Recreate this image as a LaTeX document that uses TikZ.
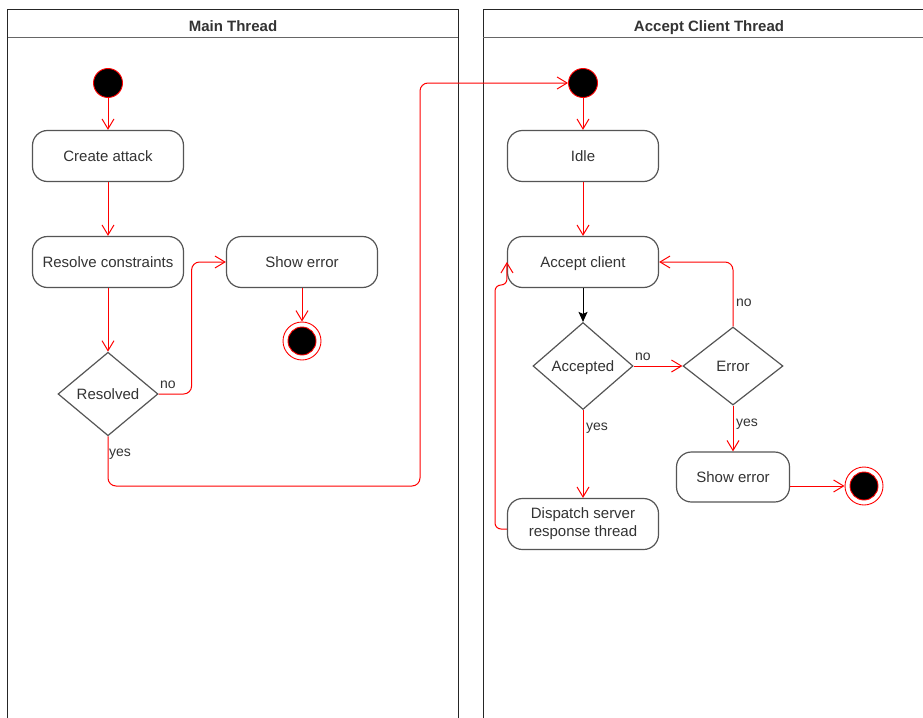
\documentclass[tikz,border=0pt]{standalone}
\usepackage{fontspec}
\setmainfont{Liberation Sans}
\usetikzlibrary{arrows.meta,shapes.geometric,calc}

\definecolor{flowred}{RGB}{255,0,0}
\definecolor{inkgray}{RGB}{51,51,51}
\definecolor{boxgray}{RGB}{85,85,85}

\tikzset{
  lane/.style={draw=black!85, line width=1pt},
  laneline/.style={draw=black!60, line width=1pt},
  lanetitle/.style={font=\fontsize{15}{18}\selectfont\bfseries, text=inkgray,
    text height=14pt, text depth=3pt},
  oneline/.style={text height=14pt, text depth=3pt},
  action/.style={draw=boxgray, line width=1.2pt, rounded corners=15pt,
    minimum width=151pt, minimum height=51pt, align=center,
    font=\fontsize{15}{18}\selectfont, text=inkgray, fill=white},
  decision/.style={diamond, draw=boxgray, line width=1.2pt, inner sep=1pt, oneline,
    minimum width=100pt, font=\fontsize{15}{18}\selectfont, text=inkgray, fill=white},
  initial/.style={circle, draw=flowred, fill=black, line width=0.9pt,
    minimum size=29pt, inner sep=0pt},
  final/.style={circle, draw=flowred, fill=white, line width=0.9pt,
    minimum size=38pt, inner sep=0pt,
    path picture={\filldraw[fill=black, draw=flowred, line width=0.9pt]
      (path picture bounding box.center) circle (14pt);}},
  flow/.style={draw=flowred, line width=1pt,
    -{Straight Barb[length=10pt,width=12pt,line width=1pt]}},
  flowbend/.style={flow, rounded corners=8pt},
  strongflow/.style={draw=black, line width=1pt,
    -{Stealth[length=10pt,width=9pt,inset=2pt]}},
  guard/.style={font=\fontsize{14}{16}\selectfont, text=inkgray, inner sep=0pt, anchor=west},
}

\begin{document}
\begin{tikzpicture}[x=1pt,y=-1pt]
  \useasboundingbox (0,0) rectangle (923,717);
  \clip (0,0) rectangle (923,717);
  \fill[white] (0,0) rectangle (923,717);

  % swimlanes
  \draw[lane] (7.5,9.5) rectangle (458,740);
  \draw[laneline] (7.5,38) -- (458,38);
  \node[lanetitle] (mainTitle) at (233,26) {Main Thread};

  \draw[lane] (483,9.5) rectangle (935,740);
  \draw[laneline] (483,38) -- (935,38);
  \node[lanetitle] (acceptTitle) at (709,26) {Accept Client Thread};

  % main thread
  \node[initial] (s1) at (108,83) {};
  \node[action, oneline] (create) at (108,156) {Create attack};
  \node[action, oneline] (resolve) at (108,262) {Resolve constraints};
  \node[action, oneline] (err1) at (302,262) {Show error};
  \node[final] (end1) at (302,341) {};
  \node[decision, minimum height=83pt] (resolved) at (108,394) {Resolved};

  \draw[flow] (s1) -- (create);
  \draw[flow] (create) -- (resolve);
  \draw[flow] (resolve) -- (resolved);
  \draw[flowbend] (resolved.east) -- ($(resolved.east)+(33,0)$) |- (err1.west);
  \node[guard] (noA) at (160,385) {no};
  \draw[flow] (err1) -- (end1);

  % accept client thread
  \node[initial] (s2) at (583,83) {};
  \node[action, oneline] (idle) at (583,156) {Idle};
  \node[action, oneline] (accept) at (583,262) {Accept client};
  \node[decision, minimum height=87pt] (accepted) at (583,366) {Accepted};
  \node[decision, minimum height=78pt] (error) at (733,366) {Error};
  \node[action, oneline, minimum width=113pt, minimum height=50pt] (err2) at (733,477) {Show error};
  \node[final] (end2) at (864,486) {};
  \node[action] (dispatch) at (583,524) {Dispatch server\\response thread};

  % hand-over from main thread
  \draw[flowbend] (resolved.south) -- (108,486) -- (420,486) -- (420,83) -- (s2.west);
  \node[guard] (yesA) at (109,454) {yes};

  \draw[flow] (s2) -- (idle);
  \draw[flow] (idle) -- (accept);
  \draw[strongflow] (accept) -- (accepted);
  \draw[flow] (accepted) -- (error);
  \node[guard] (noB) at (635,357) {no};
  \draw[flowbend] (error.north) |- (accept.east);
  \node[guard] (noC) at (736,303) {no};
  \draw[flow] (error) -- (err2);
  \node[guard] (yesC) at (736,424) {yes};
  \draw[flow] (err2.east |- end2.west) -- (end2.west);
  \draw[flow] (accepted) -- (dispatch);
  \node[guard] (yesB) at (586,428) {yes};
  \draw[flow, rounded corners=6pt] ($(dispatch.west)+(0,5)$) -- (495,529) -- (495,285)
    -- (507,285) -- (accept.west);
\end{tikzpicture}
\end{document}
